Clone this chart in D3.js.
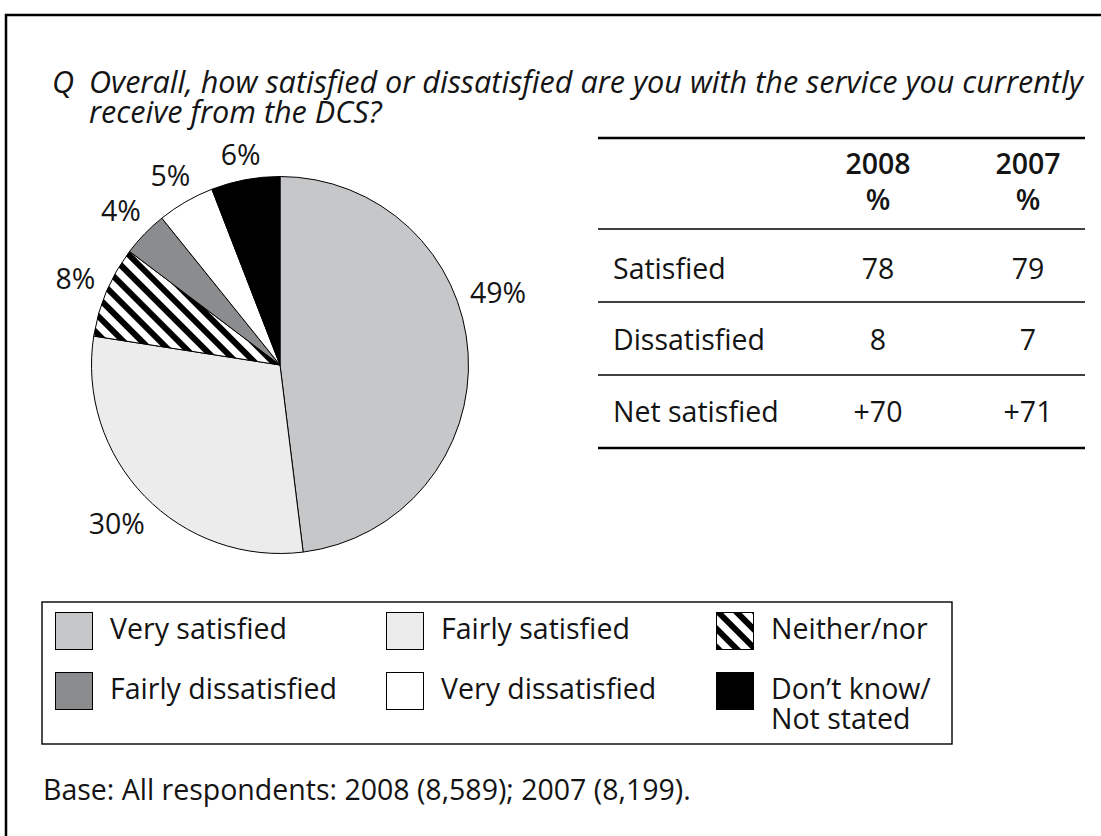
<!DOCTYPE html>
<html><head><meta charset="utf-8">
<script src="https://cdn.jsdelivr.net/npm/d3@7"></script>
<style>
body{margin:0;background:#fff}
svg{display:block}
text{font-family:"Open Sans","Noto Sans",sans-serif;fill:#141414}
</style>
</head><body>
<svg id="chart" width="1101" height="836"></svg>
<script>
// ---------- data ----------
const categories = ["Very satisfied","Fairly satisfied","Neither/nor","Fairly dissatisfied","Very dissatisfied","Don’t know/\nNot stated"];
const shares = [49, 30, 8, 4, 5, 6];
const sliceLabels = ["49%","30%","8%","4%","5%","6%"];
const tableYears = ["2008","2007"];
const tableRows = ["Satisfied","Dissatisfied","Net satisfied"];
const values2008 = ["78","8","+70"];
const values2007 = ["79","7","+71"];
const titleQ = "Q";
const titleLines = ["Overall, how satisfied or dissatisfied are you with the service you currently","receive from the DCS?"];
const baseNote = "Base: All respondents: 2008 (8,589); 2007 (8,199).";

// ---------- styles ----------
const fills = ["#c6c7c9","#ebeceb","url(#hatch)","#8b8c8d","#ffffff","#000000"];
const FS = 28.5;

const svg = d3.select("#chart");
const defs = svg.append("defs");
const pat = defs.append("pattern").attr("id","hatch").attr("patternUnits","userSpaceOnUse")
  .attr("width",13).attr("height",13).attr("patternTransform","rotate(45)");
pat.append("rect").attr("width",13).attr("height",13).attr("fill","#fff");
pat.append("rect").attr("width",13).attr("height",6).attr("fill","#000");

// frame
svg.append("path").attr("d","M6,900 L6,15 L1110,15").attr("fill","none").attr("stroke","#000").attr("stroke-width",2.5);

// title (one text element, tspans per line)
const tt = svg.append("text").attr("font-style","italic").attr("font-size",FS);
tt.append("tspan").attr("x",52).attr("y",93).text(titleQ);
const t1 = tt.append("tspan").attr("x",89).attr("y",93).text(titleLines[0]);
const w = t1.node().getComputedTextLength();
tt.attr("font-size", FS * (994 / w));
tt.append("tspan").attr("x",89).attr("y",123).text(titleLines[1]);

// pie
const cx = 280, cy = 365, R = 188.5, GAP = 11, HALF_H = 11;
const pie = d3.pie().sort(null).value(d => d);
const arcs = pie(shares);
const arc = d3.arc().innerRadius(0).outerRadius(R);
const pg = svg.append("g").attr("transform",`translate(${cx},${cy})`);
pg.selectAll("path.slice").data(arcs).join("path").attr("class","slice")
  .attr("d",arc).attr("fill",(d,i)=>fills[i]).attr("stroke","#000").attr("stroke-width",1)
  .attr("stroke-linejoin","round");
const labelNudge = [-0.257, 0, 0, 0, 0, 0]; // radians
const labs = pg.selectAll("text.lab").data(arcs).join("text").attr("class","lab")
  .attr("text-anchor","middle").attr("dy","0.36em").attr("font-size",FS)
  .text((d,i)=>sliceLabels[i]);
labs.each(function(d,i){
  const a = (d.startAngle+d.endAngle)/2 + labelNudge[i];
  const hw = this.getComputedTextLength()/2;
  const r = R + GAP + hw*Math.abs(Math.sin(a)) + HALF_H*Math.abs(Math.cos(a));
  d3.select(this).attr("x", r*Math.sin(a)).attr("y", -r*Math.cos(a));
});

// table
const tx0 = 598, tx1 = 1085;
const colX = d3.scalePoint().domain(tableYears).range([878,1028]);
const rowY = d3.scaleBand().domain(tableRows).range([229,448]);
const tbl = svg.append("g");
tbl.append("line").attr("x1",tx0).attr("x2",tx1).attr("y1",138).attr("y2",138).attr("stroke","#000").attr("stroke-width",2.5);
tbl.append("line").attr("x1",tx0).attr("x2",tx1).attr("y1",229).attr("y2",229).attr("stroke","#000").attr("stroke-width",1.4);
tbl.append("line").attr("x1",tx0).attr("x2",tx1).attr("y1",448).attr("y2",448).attr("stroke","#000").attr("stroke-width",2.5);
tbl.selectAll("line.row").data(tableRows.slice(1)).join("line").attr("class","row")
  .attr("x1",tx0).attr("x2",tx1).attr("y1",d=>rowY(d)).attr("y2",d=>rowY(d)).attr("stroke","#000").attr("stroke-width",1.4);
tableYears.forEach(y => {
  tbl.append("text").attr("x",colX(y)).attr("y",174).attr("text-anchor","middle").attr("font-weight","600").attr("font-size",FS).text(y);
  tbl.append("text").attr("x",colX(y)).attr("y",210).attr("text-anchor","middle").attr("font-weight","600").attr("font-size",FS).text("%");
});
tableRows.forEach((r,i) => {
  const yb = rowY(r) + rowY.bandwidth()/2 + 13 - i*1.5;
  tbl.append("text").attr("x",613).attr("y",yb).attr("font-size",FS).text(r);
  tbl.append("text").attr("x",colX("2008")).attr("y",yb).attr("text-anchor","middle").attr("font-size",FS).text(values2008[i]);
  tbl.append("text").attr("x",colX("2007")).attr("y",yb).attr("text-anchor","middle").attr("font-size",FS).text(values2007[i]);
});

// legend
const lg = svg.append("g");
lg.append("rect").attr("x",42).attr("y",602).attr("width",910).attr("height",142).attr("fill","none").attr("stroke","#000").attr("stroke-width",1.4);
const lcol = [55, 386, 716], lrow = [612, 672], SW = 37;
categories.forEach((c,i) => {
  const x = lcol[i%3], y = lrow[Math.floor(i/3)];
  lg.append("rect").attr("x",x+0.5).attr("y",y+0.5).attr("width",SW).attr("height",SW)
    .attr("fill",fills[i]).attr("stroke","#000").attr("stroke-width",1);
  const t = lg.append("text").attr("font-size",FS);
  c.split("\n").forEach((ln,j) => {
    t.append("tspan").attr("x",x+55).attr("y",y+27+j*30).text(ln);
  });
});

// base note
svg.append("text").attr("x",43).attr("y",800).attr("font-size",FS).text(baseNote);
</script>
</body></html>
